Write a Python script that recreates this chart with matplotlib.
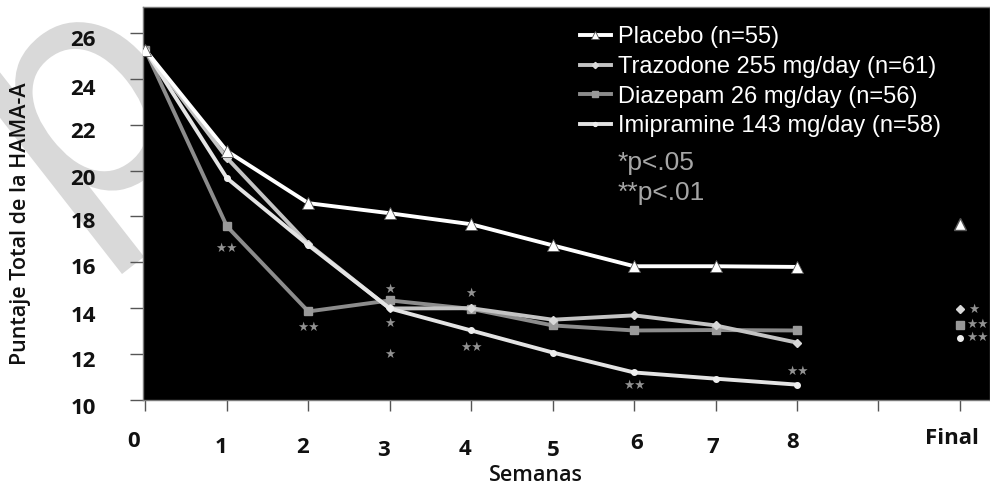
import matplotlib
matplotlib.use('Agg')
import matplotlib.pyplot as plt
from matplotlib.transforms import ScaledTranslation, Affine2D
from matplotlib.textpath import TextPath
from matplotlib.patches import PathPatch
from matplotlib.font_manager import FontProperties

# data (HAMA-A total score by week)
weeks = [0, 1, 2, 3, 4, 5, 6, 7, 8]
placebo = [25.25, 20.85, 18.58, 18.14, 17.66, 16.74, 15.83, 15.83, 15.80]
trazodone = [25.25, 20.55, 16.80, 13.99, 14.00, 13.50, 13.69, 13.25, 12.50]
diazepam = [25.25, 17.57, 13.86, 14.34, 13.97, 13.25, 13.03, 13.05, 13.03]
imipramine = [25.25, 19.67, 16.75, 13.99, 13.03, 12.07, 11.20, 10.93, 10.67]

final_x = 10
final_vals = [17.66, 13.95, 13.29, 12.72]   # placebo, trazodone, diazepam, imipramine

series_labels = ['Placebo (n=55)', 'Trazodone 255 mg/day (n=61)',
                 'Diazepam 26 mg/day (n=56)', 'Imipramine 143 mg/day (n=58)']

# significance stars
star_x = [1, 2, 3, 3, 3, 4, 4, 6, 8, 10.17, 10.22, 10.22]
star_y = [16.6, 13.16, 14.82, 13.33, 12.0, 14.64, 12.29, 10.63, 11.24, 13.95, 13.29, 12.72]
star_txt = ['★★', '★★', '★', '★', '★', '★', '★★', '★★', '★★', '★', '★★', '★★']

xtick_pos = [0, 1, 2, 3, 4, 5, 6, 7, 8, 9, 10]
xtick_lbl = ['0', '1', '2', '3', '4', '5', '6', '7', '8', '', 'Final']
ytick_pos = [10, 12, 14, 16, 18, 20, 22, 24, 26]

# small pixel nudges of the hand-placed labels in the original
x_nudge = [(-12, -4), (-6, 2), (-6, 2), (-6, 5), (-6, 4), (1, 5), (3, -2), (-3, 2), (-4, -3), (0, 0), (-8, -7)]
y_nudge = [6, 5, 6, 4, 4, 6, 5, 8, 5]

label_font = ['Open Sans', 'DejaVu Sans']
legend_font = ['Liberation Sans', 'DejaVu Sans']

fig = plt.figure(figsize=(9.9, 4.86), dpi=100)

# light grey "p" watermark sitting behind the plot area
wm = TextPath((0, 0), 'p', size=1, prop=FontProperties(family='DejaVu Sans'))
ext = wm.get_extents()
wm_tr = (Affine2D().translate(-ext.x0, -ext.y0).scale(310).rotate_deg(38)
         .translate(122, 486 - 274))
fig.add_artist(PathPatch(wm, transform=wm_tr, facecolor='#d9d9d9', edgecolor='none', zorder=-1))

ax = fig.add_axes([143/990, 86/486, 847/990, 393/486])
ax.set_facecolor('black')

l1, = ax.plot(weeks, placebo, color='white', lw=2.8, marker='^', ms=8,
              mfc='white', mec='#555555', mew=0.6, zorder=5)
l2, = ax.plot(weeks, trazodone, color='#c4c4c4', lw=2.8, marker='D', ms=4.5,
              mfc='#d8d8d8', mec='#d8d8d8', zorder=4)
l3, = ax.plot(weeks, diazepam, color='#8c8c8c', lw=2.8, marker='s', ms=6,
              mfc='#999999', mec='#999999', zorder=3)
l4, = ax.plot(weeks, imipramine, color='#e4e4e4', lw=2.8, marker='o', ms=4,
              mfc='#eeeeee', mec='#eeeeee', zorder=4)

# final visit points (no connecting line)
for ln, v in zip([l1, l2, l3, l4], final_vals):
    ax.plot([final_x], [v], ls='none', marker=ln.get_marker(), ms=ln.get_markersize(),
            mfc=ln.get_markerfacecolor(), mec=ln.get_markeredgecolor(), zorder=5)

for sx, sy, st in zip(star_x, star_y, star_txt):
    ax.text(sx, sy, st, color='#929292', fontsize=9, family='DejaVu Sans',
            ha='center', va='center', zorder=6)

ax.set_xlim(-0.03, 10.37)
ax.set_ylim(10, 27.13)

for sp in ax.spines.values():
    sp.set_color('#7a7a7a')
    sp.set_linewidth(1)

ax.set_xticks(xtick_pos, xtick_lbl)
ax.set_yticks(ytick_pos, [str(v) for v in ytick_pos])
ax.tick_params(axis='x', direction='out', length=8, width=1, color='#555555',
               pad=24.5, labelsize=16, labelcolor='#111111')
ax.tick_params(axis='y', direction='out', length=9.5, width=1, color='#555555',
               pad=24.5, labelsize=16, labelcolor='#111111')

for lbl, (dx, dy) in zip(ax.get_xticklabels(), x_nudge):
    lbl.set_family(label_font)
    lbl.set_weight('bold')
    lbl.set_va('center')
    lbl.set_transform(lbl.get_transform() + ScaledTranslation(dx/100, -dy/100, fig.dpi_scale_trans))
for lbl, dy in zip(ax.get_yticklabels(), y_nudge):
    lbl.set_family(label_font)
    lbl.set_weight('bold')
    lbl.set_transform(lbl.get_transform() + ScaledTranslation(0, -dy/100, fig.dpi_scale_trans))

fig.text(536/990, 1 - 475/486, 'Semanas', fontsize=15.5, weight='semibold',
         family=label_font, ha='center', va='center', color='#111111')
fig.text(21/990, 1 - 224/486, 'Puntaje Total de la HAMA-A', fontsize=15.5,
         weight='semibold', family=label_font, rotation=90,
         ha='center', va='center', color='#111111')

leg = ax.legend([l1, l2, l3, l4], series_labels, loc='upper left',
                bbox_to_anchor=(580/990, 1 - 26/486), bbox_transform=fig.transFigure,
                frameon=False, prop={'family': legend_font, 'size': 17},
                labelcolor='white', handlelength=1.3, handletextpad=0.3,
                borderpad=0, borderaxespad=0, labelspacing=0.33,
                numpoints=1, markerscale=0.7)

ax.text((618 - 143)/847, (400 - 163)/393, '*p<.05', transform=ax.transAxes,
        color='#a6a6a6', fontsize=19, family=legend_font, ha='left', va='center')
ax.text((618 - 143)/847, (400 - 193)/393, '**p<.01', transform=ax.transAxes,
        color='#a6a6a6', fontsize=19, family=legend_font, ha='left', va='center')

plt.savefig('out.png', dpi=100)
